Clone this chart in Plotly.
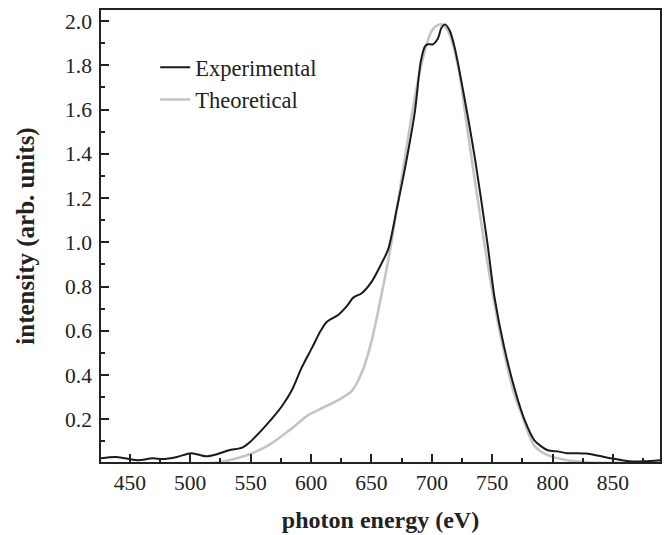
import plotly.graph_objects as go

# Experimental spectrum (black)
exp_x = [426, 439, 456, 469, 477, 489, 501, 513, 522, 532, 543, 549, 559, 568, 576, 584,
         592, 601, 608, 613, 623, 630, 635, 642, 650, 658, 664, 671, 678, 686, 691, 694.5,
         697, 701, 705, 708, 711, 715, 719, 727.5, 736, 746, 752, 760, 769, 777, 785, 796,
         804, 812, 821, 828, 838, 848, 864, 876, 889]
exp_y = [0.024, 0.03, 0.015, 0.024, 0.02, 0.03, 0.047, 0.033, 0.042, 0.06, 0.072, 0.095,
         0.15, 0.205, 0.26, 0.33, 0.43, 0.525, 0.6, 0.64, 0.674, 0.714, 0.75, 0.77, 0.82, 0.9,
         0.97, 1.15, 1.34, 1.59, 1.82, 1.887, 1.895, 1.895, 1.92, 1.97, 1.985, 1.955, 1.88,
         1.64, 1.37, 1.0, 0.75, 0.525, 0.33, 0.195, 0.105, 0.06, 0.055, 0.047, 0.047, 0.045,
         0.035, 0.024, 0.01, 0.01, 0.015]

# Theoretical spectrum (grey)
th_x = [426, 500, 520, 532, 549, 565, 582, 598, 609, 625, 634, 642, 650, 657.5, 664, 674,
        683, 690, 694.5, 698.6, 703, 708, 713.5, 722, 730, 744, 752, 760, 768, 774, 785,
        796, 812, 820, 830, 889]
th_y = [0, 0, 0.003, 0.015, 0.042, 0.083, 0.15, 0.22, 0.25, 0.295, 0.33, 0.41, 0.55, 0.74,
        0.92, 1.25, 1.56, 1.77, 1.87, 1.94, 1.975, 1.985, 1.955, 1.79, 1.49, 0.98, 0.72, 0.5,
        0.32, 0.23, 0.08, 0.038, 0.015, 0.01, 0.005, 0.005]

x_ticks = [450, 500, 550, 600, 650, 700, 750, 800, 850]
y_ticks = [0.2, 0.4, 0.6, 0.8, 1.0, 1.2, 1.4, 1.6, 1.8, 2.0]
y_ticklabels = ["0.2", "0.4", "0.6", "0.8", "1.0", "1.2", "1.4", "1.6", "1.8", "2.0"]

XR = [426.1, 889]
YR = [0.007, 2.05]
FONT = "Liberation Serif, Times New Roman, serif"

fig = go.Figure()
fig.add_trace(go.Scatter(x=th_x, y=th_y, mode="lines", name="Theoretical",
                         line=dict(color="#c4c4c4", width=2.6, shape="spline", smoothing=0.8)))
fig.add_trace(go.Scatter(x=exp_x, y=exp_y, mode="lines", name="Experimental",
                         line=dict(color="#1a1a1a", width=2.0, shape="spline", smoothing=0.8)))

axis_common = dict(showgrid=False, zeroline=False, linecolor="#222", linewidth=1.5,
                   ticks="inside", tickcolor="#222", tickwidth=1.5)

fig.update_layout(
    width=666, height=535,
    margin=dict(l=101, r=4, t=10, b=73),
    paper_bgcolor="white", plot_bgcolor="white",
    font=dict(family=FONT, size=21.5, color="#222"),
    showlegend=True,
    legend=dict(x=0.097, y=0.92, xanchor="left", yanchor="top", traceorder="reversed",
                bgcolor="rgba(0,0,0,0)", font=dict(size=22.5, family=FONT), tracegroupgap=0),
    xaxis=dict(**axis_common, range=XR, mirror=True, tickvals=x_ticks, ticklen=8,
               minor=dict(dtick=25, tick0=0, ticklen=4, ticks="inside", tickcolor="#222", tickwidth=1.5),
               tickfont=dict(size=21.5, family=FONT),
               title=dict(text="<b>photon energy (eV)</b>", font=dict(size=24, family=FONT), standoff=18)),
    yaxis=dict(**axis_common, range=YR, mirror=True, tickvals=y_ticks, ticktext=y_ticklabels, ticklen=8,
               minor=dict(dtick=0.1, tick0=0, ticklen=4, ticks="inside", tickcolor="#222", tickwidth=1.5),
               tickfont=dict(size=21.5, family=FONT), ticklabelstandoff=3,
               title=dict(text="<b>intensity (arb. units)</b>", font=dict(size=25, family=FONT), standoff=23)),
    xaxis2=dict(overlaying="x", side="top", anchor="y", matches="x", range=XR, showgrid=False,
                zeroline=False, showline=False, ticks="inside", ticklen=4, tickwidth=1.5,
                tickcolor="#222", tick0=0, dtick=25, showticklabels=False),
    yaxis2=dict(overlaying="y", side="right", anchor="x", matches="y", range=YR, showgrid=False,
                zeroline=False, showline=False, ticks="inside", ticklen=4, tickwidth=1.5,
                tickcolor="#222", tick0=0, dtick=0.1, showticklabels=False),
)

fig.write_html("out.html")
